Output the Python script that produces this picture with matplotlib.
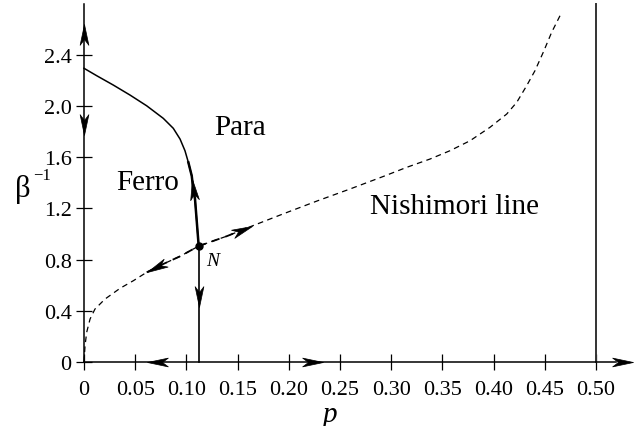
import matplotlib
matplotlib.use("Agg")
import numpy as np
import matplotlib.pyplot as plt
from matplotlib.path import Path
from matplotlib.markers import MarkerStyle
from matplotlib.transforms import Affine2D

# Nishimori line (dashed)
nish_p = [0, 0.001, 0.0026, 0.0059, 0.0107, 0.0205, 0.0352, 0.0481, 0.0612, 0.0774,
          0.0938, 0.112, 0.140, 0.164, 0.194, 0.2275, 0.2598, 0.2923, 0.3151, 0.3379,
          0.3574, 0.3770, 0.3965, 0.4128, 0.4226, 0.4323, 0.4404, 0.4485, 0.4567, 0.4665]
nish_t = [0, 0.127, 0.232, 0.336, 0.414, 0.492, 0.576, 0.635, 0.701, 0.766,
          0.826, 0.906, 0.985, 1.0625, 1.156, 1.258, 1.352, 1.450, 1.521, 1.586,
          1.651, 1.729, 1.834, 1.9375, 2.029, 2.159, 2.276, 2.420, 2.576, 2.732]

# ferro/para boundary (solid)
crit_p = [0, 0.0124, 0.0286, 0.0449, 0.0612, 0.0774, 0.0872, 0.0938, 0.0986, 0.1019,
          0.1052, 0.1067, 0.1084, 0.112]
crit_t = [2.295, 2.237, 2.164, 2.086, 2.002, 1.904, 1.826, 1.742, 1.651, 1.560,
          1.455, 1.352, 1.273, 0.906]

# Nishimori point N
pN, tN = 0.112, 0.906

xticks = [0, 0.05, 0.10, 0.15, 0.20, 0.25, 0.30, 0.35, 0.40, 0.45, 0.50]
xlabels = ["0", "0.05", "0.10", "0.15", "0.20", "0.25", "0.30", "0.35", "0.40", "0.45", "0.50"]
yticks = [0, 0.4, 0.8, 1.2, 1.6, 2.0, 2.4]
ylabels = ["0", "0.4", "0.8", "1.2", "1.6", "2.0", "2.4"]

# flow arrows: (tip, a point behind it giving the direction)
arrows = [
    ((0, 2.64), (0, 2.45)),
    ((0, 1.77), (0, 1.95)),
    ((0.1055, 1.43), (0.1075, 1.30)),
    ((pN, 0.43), (pN, 0.60)),
    ((0.0612, 0.701), (0.0774, 0.766)),
    ((0.164, 1.0625), (0.140, 0.985)),
    ((0.0615, 0), (0.085, 0)),
    ((0.233, 0), (0.21, 0)),
    ((0.536, 0), (0.51, 0)),
]

plt.rcParams['font.family'] = ['Liberation Serif', 'DejaVu Serif']

fig = plt.figure(figsize=(6.44, 4.27), dpi=100)
ax = fig.add_axes([0.1225, 0.1438, 0.8745, 0.8513])
ax.set_xlim(-0.005, 0.545)
ax.set_ylim(-0.02, 2.82)

for s in ['top', 'right']:
    ax.spines[s].set_visible(False)
ax.spines['left'].set_position(('data', 0))
ax.spines['bottom'].set_position(('data', 0))
ax.spines['left'].set_bounds(0, 2.8)
ax.spines['bottom'].set_bounds(0, 0.52)
ax.spines['left'].set_linewidth(1.1)
ax.spines['bottom'].set_linewidth(1.1)

ax.set_xticks(xticks)
ax.set_xticklabels(xlabels)
ax.set_yticks(yticks)
ax.set_yticklabels(ylabels)
ax.tick_params(direction='inout', length=12, width=0.9, labelsize=16)
ax.tick_params(axis='x', pad=7)
ax.tick_params(axis='y', pad=3)

# curves
ax.plot(nish_p, nish_t, color='black', lw=0.9, dashes=(4.5, 3.5))
ax.plot(nish_p[8:14], nish_t[8:14], color='black', lw=1.3, dashes=(4.5, 3.5))
ax.plot(crit_p, crit_t, color='black', lw=1.1)
ax.plot(crit_p[9:], crit_t[9:], color='black', lw=1.8)
ax.plot([pN, pN], [0, tN], color='black', lw=1.2)
ax.plot([0.5, 0.5], [0, 2.8], color='#333333', lw=1.4)
ax.plot([pN], [tN], 'o', color='black', ms=5)

# stealth-like arrowheads, tip at the origin, pointing along +x
head = Path([(0, 0), (-1, 0.21), (-0.72, 0), (-1, -0.21), (0, 0)],
            [Path.MOVETO, Path.LINETO, Path.LINETO, Path.LINETO, Path.CLOSEPOLY])
for tip, tail in arrows:
    a = ax.transData.transform(tail)
    b = ax.transData.transform(tip)
    ang = np.degrees(np.arctan2(b[1] - a[1], b[0] - a[0]))
    m = MarkerStyle(head, transform=Affine2D().rotate_deg(ang))
    ax.plot([tip[0]], [tip[1]], marker=m, ms=30, color='black', mew=0.5, clip_on=False)

# labels
ax.text(0.152, 1.84, "Para", fontsize=21, ha='center', va='center')
ax.text(0.062, 1.41, "Ferro", fontsize=21, ha='center', va='center')
ax.text(0.362, 1.22, "Nishimori line", fontsize=21, ha='center', va='center')
ax.text(0.119, 0.79, "N", fontsize=14, style='italic', ha='left', va='center')

fig.text(23 / 644, 1 - 189 / 427, "β", fontsize=22, ha='center', va='center')
fig.text(33 / 644, 1 - 176 / 427, "−1", fontsize=12, ha='left', va='center')
fig.text(330 / 644, 1 - 415 / 427, "p", fontsize=21, style='italic', ha='center', va='center')

fig.savefig("out.png", dpi=100)
